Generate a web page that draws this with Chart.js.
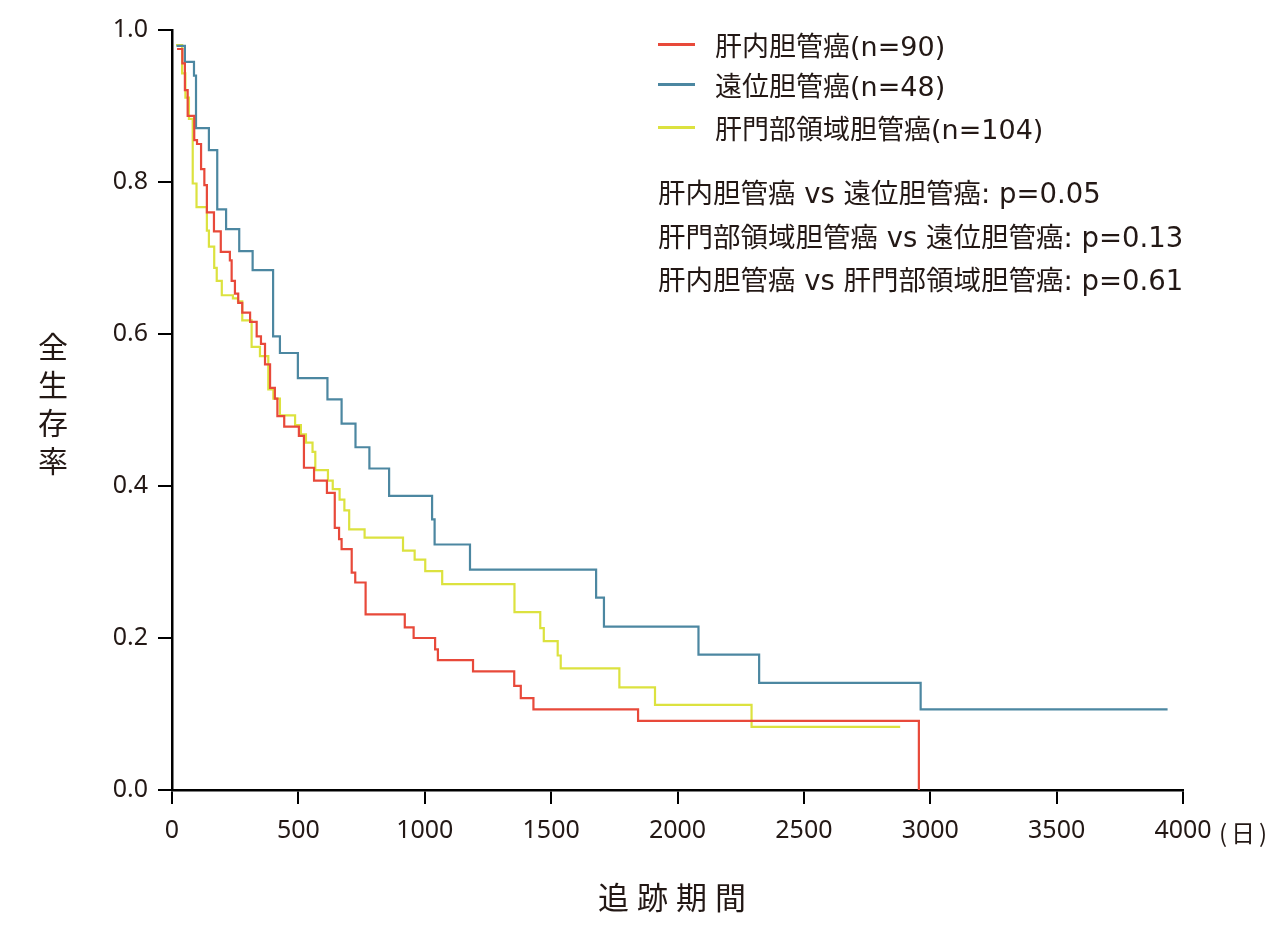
<!DOCTYPE html>
<html>
<head>
<meta charset="utf-8">
<script src="https://cdn.jsdelivr.net/npm/chart.js@4"></script>
<style>
  body { margin: 0; background: #fff; }
  #wrap { position: relative; width: 1280px; height: 940px; font-family: "Noto Sans CJK JP", "Noto Sans", sans-serif; color: #231815; }
  canvas { position: absolute; left: 0; top: 0; }
  .lg { position: absolute; left: 658px; height: 34px; display: flex; align-items: center; font-family: "DejaVu Sans", "Noto Sans CJK JP", sans-serif; font-size: 27px; white-space: nowrap; }
  .lg i { display: inline-block; width: 37px; height: 3px; margin-right: 20px; }
  .pv { position: absolute; left: 658px; font-family: "DejaVu Sans", "Noto Sans CJK JP", sans-serif; font-size: 27.5px; white-space: nowrap; line-height: 34px; }
  #ytitle { position: absolute; left: 31px; top: 332px; writing-mode: vertical-rl; text-orientation: upright; font-size: 30px; letter-spacing: 8px; }
  #xtitle { position: absolute; left: 598px; top: 873px; font-size: 31px; letter-spacing: 8px; }
  #unit { position: absolute; left: 1219px; top: 814px; font-size: 24px; letter-spacing: 4px; }
</style>
</head>
<body>
<div id="wrap">
  <canvas id="km" width="1280" height="940"></canvas>
  <div class="lg" style="top:27px"><i style="background:#E8493A"></i>肝内胆管癌(n=90)</div>
  <div class="lg" style="top:67px"><i style="background:#4C87A1"></i>遠位胆管癌(n=48)</div>
  <div class="lg" style="top:110px"><i style="background:#DCE23F"></i>肝門部領域胆管癌(n=104)</div>
  <div class="pv" style="top:176px">肝内胆管癌 vs 遠位胆管癌: p=0.05</div>
  <div class="pv" style="top:220px">肝門部領域胆管癌 vs 遠位胆管癌: p=0.13</div>
  <div class="pv" style="top:263px">肝内胆管癌 vs 肝門部領域胆管癌: p=0.61</div>
  <div id="ytitle">全生存率</div>
  <div id="xtitle">追跡期間</div>
  <div id="unit">(日)</div>
</div>
<script>
// survival curves (days, survival)
const redDays = [20, 41, 51, 62, 88, 99, 115, 128, 138, 166, 193, 229, 236, 249, 262, 278, 309, 335, 352, 368, 388, 407, 417, 444, 502, 522, 562, 613, 644, 661, 671, 711, 725, 766, 921, 956, 1041, 1052, 1191, 1354, 1380, 1430, 1844, 2955];
const redSurv = [0.975, 0.956, 0.921, 0.887, 0.855, 0.850, 0.817, 0.796, 0.760, 0.735, 0.708, 0.697, 0.670, 0.653, 0.641, 0.628, 0.616, 0.597, 0.587, 0.560, 0.529, 0.515, 0.492, 0.478, 0.466, 0.424, 0.407, 0.391, 0.345, 0.330, 0.317, 0.286, 0.273, 0.231, 0.214, 0.200, 0.185, 0.171, 0.156, 0.137, 0.121, 0.106, 0.091, 0.0];

const blueDays = [18, 51, 87, 95, 146, 179, 214, 266, 319, 400, 427, 498, 615, 671, 726, 781, 859, 1029, 1039, 1179, 1678, 1709, 2083, 2323, 2962, 3939];
const blueSurv = [0.979, 0.958, 0.940, 0.871, 0.842, 0.764, 0.738, 0.709, 0.684, 0.597, 0.575, 0.542, 0.514, 0.482, 0.451, 0.423, 0.387, 0.356, 0.323, 0.290, 0.253, 0.215, 0.178, 0.141, 0.106, 0.106];

const yellowDays = [16, 40, 53, 67, 82, 97, 138, 146, 167, 177, 197, 241, 261, 278, 315, 348, 381, 401, 427, 487, 510, 530, 556, 567, 617, 636, 663, 682, 701, 762, 914, 960, 1002, 1069, 1355, 1457, 1471, 1526, 1538, 1770, 1911, 2293, 2881];
const yellowSurv = [0.980, 0.943, 0.911, 0.883, 0.798, 0.767, 0.736, 0.715, 0.687, 0.670, 0.651, 0.647, 0.643, 0.618, 0.583, 0.571, 0.527, 0.515, 0.493, 0.480, 0.468, 0.457, 0.445, 0.421, 0.407, 0.396, 0.382, 0.368, 0.343, 0.332, 0.315, 0.303, 0.288, 0.271, 0.234, 0.213, 0.196, 0.177, 0.160, 0.135, 0.112, 0.083, 0.083];

const xTicks = [0, 500, 1000, 1500, 2000, 2500, 3000, 3500, 4000];
const yTicks = [0, 0.2, 0.4, 0.6, 0.8, 1.0];

const toPts = (d, s) => d.map((x, i) => ({ x: x, y: s[i] }));

function curve(label, days, surv, color) {
  return {
    label: label,
    data: toPts(days, surv),
    borderColor: color,
    backgroundColor: color,
    borderWidth: 2.2,
    pointRadius: 0,
    stepped: true,
    fill: false
  };
}

const tickFont = { family: '"Noto Sans", sans-serif', size: 25 };
const axisCommon = {
  border: { display: true, color: '#000', width: 2.5 },
  grid: { display: true, drawOnChartArea: false, drawTicks: true, tickLength: 14, color: '#000', lineWidth: 2 },
};

new Chart(document.getElementById('km'), {
  type: 'line',
  data: {
    datasets: [
      curve('肝内胆管癌(n=90)', redDays, redSurv, '#E8493A'),
      curve('遠位胆管癌(n=48)', blueDays, blueSurv, '#4C87A1'),
      curve('肝門部領域胆管癌(n=104)', yellowDays, yellowSurv, '#DCE23F')
    ]
  },
  options: {
    responsive: false,
    animation: false,
    layout: { padding: { left: 0, right: 97, top: 30, bottom: 0 } },
    plugins: { legend: { display: false }, tooltip: { enabled: false } },
    scales: {
      x: {
        type: 'linear', min: 0, max: 4000,
        ...axisCommon,
        afterBuildTicks: s => { s.ticks = xTicks.map(v => ({ value: v })); },
        afterFit: s => { s.height = 150; },
        ticks: { font: tickFont, color: '#231815', padding: 12, maxRotation: 0, callback: v => String(v) }
      },
      y: {
        type: 'linear', min: 0, max: 1,
        ...axisCommon,
        afterBuildTicks: s => { s.ticks = yTicks.map(v => ({ value: v })); },
        afterFit: s => { s.width = 172; },
        ticks: { font: tickFont, color: '#231815', padding: 10, callback: v => v.toFixed(1) }
      }
    }
  }
});
</script>
</body>
</html>
